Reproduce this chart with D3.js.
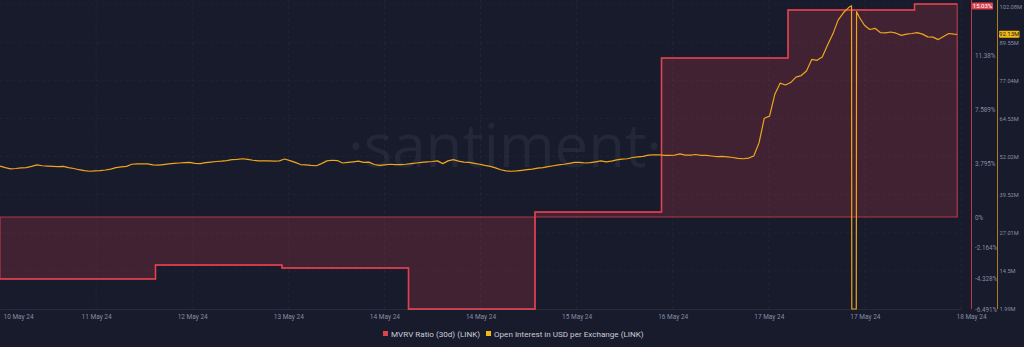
<!DOCTYPE html>
<html>
<head>
<meta charset="utf-8">
<script src="https://cdn.jsdelivr.net/npm/d3@7"></script>
<style>
  html, body { margin: 0; padding: 0; background: #181b2b; overflow: hidden; }
  svg { display: block; font-family: Roboto, "Noto Sans", sans-serif; }
</style>
</head>
<body>
<div class="container"></div>
<script>
// MVRV Ratio (30d), daily steps (value holds until the next date)
const mvrvDates = ["2024-05-10 18:30", "2024-05-12 00:00", "2024-05-13 00:00", "2024-05-14 00:00",
    "2024-05-15 00:00", "2024-05-16 00:00", "2024-05-17 00:00", "2024-05-18 00:00", "2024-05-18 08:06"];
const mvrvValues = [-4.37, -3.39, -3.60, -6.491, 0.35, 11.22, 14.61, 15.03, 15.03];

// Open interest in USD (millions), one reading per hour from oiStart
const oiStart = "2024-05-10 18:30";
const oiHourly = [
    48.9, 48.4, 48.0, 48.1, 48.3, 48.4, 48.8, 49.3, 49.0, 48.9,
    48.8, 48.7, 48.8, 48.4, 48.1, 47.7, 47.4, 47.2, 47.3, 47.4,
    47.6, 47.9, 48.4, 48.6, 48.8, 49.5, 49.6, 49.6, 49.6, 49.3,
    49.2, 49.4, 49.6, 49.8, 49.9, 50.0, 50.1, 49.8, 49.7, 50.0,
    50.2, 50.4, 50.5, 50.7, 51.0, 51.1, 51.3, 51.1, 50.8, 50.6,
    50.6, 50.6, 50.5, 50.6, 51.2, 50.7, 50.1, 49.4, 49.3, 49.1,
    49.0, 49.7, 50.6, 50.8, 50.7, 49.9, 50.1, 50.3, 50.5, 50.1,
    50.2, 49.4, 49.1, 49.3, 49.5, 49.4, 49.4, 49.5, 49.7, 49.9,
    50.1, 50.3, 50.4, 50.6, 49.7, 50.6, 51.0, 50.5, 50.2, 50.1,
    49.8, 49.5, 49.1, 48.8, 48.3, 47.7, 47.3, 47.2, 47.3, 47.5,
    47.7, 47.9, 48.2, 48.4, 48.7, 49.0, 49.3, 49.5, 49.8, 50.1,
    50.1, 49.9, 50.0, 50.3, 50.6, 50.3, 50.5, 50.9, 51.2, 51.3,
    51.7, 51.9, 52.1, 52.5, 52.6, 52.6, 52.4, 52.4, 52.5, 52.9,
    52.5, 52.5, 52.7, 52.4, 52.4, 52.2, 52.0, 52.1, 51.9, 51.7,
    51.4, 51.3, 51.5, 52.2, 56.5, 64.6, 65.3, 72.5, 76.1, 75.5,
    76.3, 78.1, 78.6, 80.1, 83.9, 83.6, 84.7, 88.6, 92.2, 96.8,
    99.2, 100.9, 1.99, 97.8, 95.1, 93.7, 94.1, 92.7, 92.6, 92.9,
    92.5, 91.8, 92.2, 92.4, 92.7, 92.2, 91.3, 91.2, 90.4, 91.4,
    92.4, 92.2
];
// extra readings around the data gap on 17 May and the last reading
const oiExtraTimes = ["2024-05-17 12:03", "2024-05-17 12:06", "2024-05-17 12:57", "2024-05-17 13:00", "2024-05-18 08:06"];
const oiExtraValues = [101.5, 1.99, 1.99, 99.6, 92.13];

// axis ticks
const xTickLabels = ["10 May 24", "11 May 24", "12 May 24", "13 May 24", "14 May 24", "14 May 24",
    "15 May 24", "16 May 24", "17 May 24", "17 May 24", "18 May 24"];
const mvrvTicks = [-6.491, -4.328, -2.164, 0, 3.795, 7.589, 11.38];
const mvrvTickLabels = ["-6.491%", "-4.328%", "-2.164%", "0%", "3.795%", "7.589%", "11.38%"];
const oiTicks = [1.99, 14.5, 27.01, 39.52, 52.02, 64.53, 77.04, 89.55, 102.08];
const oiTickLabels = ["1.99M", "14.5M", "27.01M", "39.52M", "52.02M", "64.53M", "77.04M", "89.55M", "102.08M"];

const width = 1024,
    height = 347;

const RED = "#e0424f",
    YELLOW = "#efa51c",
    TICK_COLOR = "#878da1";

const parse = d3.utcParse("%Y-%m-%d %H:%M");

const mvrv = mvrvDates.map((d, i) => ({ date: parse(d), value: mvrvValues[i] }));

const start = parse(oiStart);
let oi = oiHourly.map((v, i) => ({ date: new Date(+start + i * 3600e3), value: v }));
oiExtraTimes.forEach((t, i) => oi.push({ date: parse(t), value: oiExtraValues[i] }));
oi.sort((a, b) => a.date - b.date);

const x = d3.scaleTime()
    .domain([start, parse("2024-05-18 08:49")])
    .range([0, 961]);

const yMvrv = d3.scaleLinear().domain([-6.491, 15.03]).range([309, 4]);
const yOi = d3.scaleLinear().domain([1.99, 102.08]).range([309, 4]);

const svg = d3.select(".container")
    .append("svg")
    .attr("width", width)
    .attr("height", height);

svg.append("rect")
    .attr("width", width)
    .attr("height", height)
    .attr("fill", "#181b2b");

// watermark
svg.append("text")
    .attr("x", 505)
    .attr("y", 167)
    .attr("text-anchor", "middle")
    .attr("font-size", 60)
    .attr("font-weight", 400)
    .attr("font-family", "Open Sans, sans-serif")
    .attr("fill", "#232839")
    .text("·santiment·");

// grid
const tickDates = d3.range(11).map(k => new Date(+x.domain()[0] + k * (x.domain()[1] - x.domain()[0]) / 10));

svg.append("g")
    .selectAll("line")
    .data(tickDates.slice(1))
    .enter()
    .append("line")
    .attr("x1", d => x(d))
    .attr("x2", d => x(d))
    .attr("y1", 0)
    .attr("y2", 309)
    .attr("stroke", "rgba(255,255,255,0.045)")
    .attr("stroke-dasharray", "3,3");

svg.append("g")
    .selectAll("line")
    .data(oiTicks.slice(1))
    .enter()
    .append("line")
    .attr("x1", 0)
    .attr("x2", 961)
    .attr("y1", d => yOi(d))
    .attr("y2", d => yOi(d))
    .attr("stroke", "rgba(255,255,255,0.035)")
    .attr("stroke-dasharray", "3,3");

// MVRV area + line
const area = d3.area()
    .curve(d3.curveStepAfter)
    .x(d => x(d.date))
    .y0(yMvrv(0))
    .y1(d => yMvrv(d.value));

svg.append("path")
    .datum(mvrv)
    .attr("d", area)
    .attr("fill", RED)
    .attr("fill-opacity", 0.2)
    .attr("stroke", RED)
    .attr("stroke-opacity", 0.75)
    .attr("stroke-width", 1.2);

const mvrvLine = d3.line()
    .curve(d3.curveStepAfter)
    .x(d => x(d.date))
    .y(d => yMvrv(d.value));

svg.append("path")
    .datum(mvrv)
    .attr("d", mvrvLine)
    .attr("fill", "none")
    .attr("stroke", RED)
    .attr("stroke-width", 1.5);

// Open interest line
const oiLine = d3.line()
    .x(d => x(d.date))
    .y(d => yOi(d.value));

svg.append("path")
    .datum(oi)
    .attr("d", oiLine)
    .attr("fill", "none")
    .attr("stroke", YELLOW)
    .attr("stroke-width", 1.2)
    .attr("stroke-linejoin", "round");

// x axis
const xAxis = svg.append("g")
    .attr("transform", "translate(0,309)")
    .call(d3.axisBottom(x)
        .tickValues(tickDates)
        .tickSize(0)
        .tickPadding(5)
        .tickFormat((d, i) => xTickLabels[i]));

xAxis.select(".domain").attr("stroke", "rgba(255,255,255,0.07)");
xAxis.selectAll("text")
    .attr("fill", TICK_COLOR)
    .attr("font-size", 6.5)
    .attr("font-family", "Roboto, sans-serif");
xAxis.selectAll(".tick text")
    .filter((d, i) => i === 0)
    .attr("text-anchor", "start")
    .attr("x", 3);
xAxis.selectAll(".tick text")
    .filter((d, i) => i === 10)
    .attr("text-anchor", "start")
    .attr("x", -5);

// right axes
const mvrvAxis = svg.append("g")
    .attr("transform", "translate(971,0)")
    .call(d3.axisRight(yMvrv)
        .tickValues(mvrvTicks)
        .tickSize(0)
        .tickPadding(4)
        .tickFormat((d, i) => mvrvTickLabels[i]));

const oiAxis = svg.append("g")
    .attr("transform", "translate(997,0)")
    .call(d3.axisRight(yOi)
        .tickValues(oiTicks)
        .tickSize(0)
        .tickPadding(2.5)
        .tickFormat((d, i) => oiTickLabels[i]));

mvrvAxis.select(".domain").attr("stroke", RED).attr("stroke-opacity", 0.8).attr("d", "M0.5,0V309");
oiAxis.select(".domain").attr("stroke", YELLOW).attr("stroke-opacity", 0.7).attr("d", "M0.5,0V309");

mvrvAxis.selectAll("text")
    .attr("fill", TICK_COLOR)
    .attr("font-size", 6.3)
    .attr("font-family", "Roboto, sans-serif");
oiAxis.selectAll("text")
    .attr("fill", TICK_COLOR)
    .attr("font-size", 5.7)
    .attr("font-family", "Roboto, sans-serif");
// keep the top label inside the picture
oiAxis.selectAll(".tick text")
    .filter(d => d === 102.08)
    .attr("dy", "0.75em");

// current value badges
const lastMvrv = mvrvValues[mvrvValues.length - 1];
const lastOi = oiExtraValues[oiExtraValues.length - 1];

svg.append("rect")
    .attr("x", 972)
    .attr("y", yMvrv(lastMvrv) - 1.5)
    .attr("width", 21)
    .attr("height", 7)
    .attr("rx", 1)
    .attr("fill", RED);
svg.append("text")
    .attr("x", 982.5)
    .attr("y", yMvrv(lastMvrv) + 4)
    .attr("text-anchor", "middle")
    .attr("font-size", 6)
    .attr("fill", "#ffffff")
    .text(lastMvrv.toFixed(2) + "%");

svg.append("rect")
    .attr("x", 999)
    .attr("y", yOi(lastOi) - 3.5)
    .attr("width", 20.5)
    .attr("height", 7)
    .attr("rx", 1)
    .attr("fill", "#f5b915");
svg.append("text")
    .attr("x", 1009.2)
    .attr("y", yOi(lastOi) + 2.1)
    .attr("text-anchor", "middle")
    .attr("font-size", 6)
    .attr("fill", "#1a1a1a")
    .text(lastOi.toFixed(2) + "M");

// legend
const legendItems = [
    { label: "MVRV Ratio (30d) (LINK)", color: RED, x: 383 },
    { label: "Open Interest in USD per Exchange (LINK)", color: "#f5b915", x: 486 }
];

const legend = svg.append("g").attr("transform", "translate(0,331)");

legend.selectAll("rect")
    .data(legendItems)
    .enter()
    .append("rect")
    .attr("x", d => d.x)
    .attr("y", 0)
    .attr("width", 5)
    .attr("height", 5)
    .attr("fill", d => d.color);

legend.selectAll("text")
    .data(legendItems)
    .enter()
    .append("text")
    .attr("x", d => d.x + 8)
    .attr("y", 5.5)
    .attr("font-size", 8.1)
    .attr("fill", "#c8cbd6")
    .text(d => d.label);
</script>
</body>
</html>
